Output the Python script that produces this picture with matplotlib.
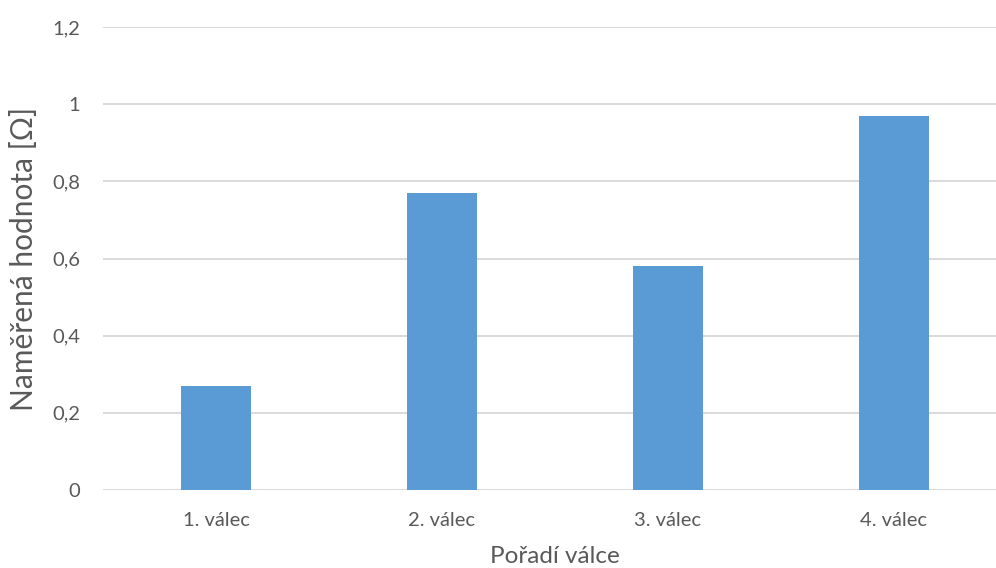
import matplotlib
matplotlib.use("Agg")
import matplotlib.pyplot as plt
from matplotlib.ticker import FuncFormatter

categories = ["1. válec", "2. válec", "3. válec", "4. válec"]
values = [0.27, 0.77, 0.58, 0.97]
yticks = [0, 0.2, 0.4, 0.6, 0.8, 1.0, 1.2]

plt.rcParams['font.family'] = ['Lato', 'DejaVu Sans']
text_color = "#595959"

W, H = 996, 568
fig = plt.figure(figsize=(W / 100, H / 100), dpi=100)
# plot area runs past the right edge of the canvas
left, right = 103, 1007
top, bottom = 27, 490
ax = fig.add_axes([left / W, 1 - bottom / H, (right - left) / W, (bottom - top) / H])

x = list(range(len(categories)))
ax.bar(x, values, width=0.31, color="#5B9BD5", zorder=3)

ax.set_xlim(-0.5, len(categories) - 0.5)
ax.set_ylim(0, 1.2)
ax.set_yticks(yticks)
ax.yaxis.set_major_formatter(FuncFormatter(lambda v, p: (f"{v:.1f}".rstrip("0").rstrip(".")).replace(".", ",")))
ax.set_xticks(x)
ax.set_xticklabels(categories)

ax.grid(axis="y", color="#d9d9d9", linewidth=1.4, zorder=0)
for s in ax.spines.values():
    s.set_visible(False)
ax.tick_params(axis="both", length=0, labelsize=14.5, colors=text_color)
ax.tick_params(axis="y", pad=16.5)
ax.tick_params(axis="x", pad=16)

ax.set_ylabel("Naměřená hodnota [Ω]", fontsize=21.5, color=text_color)
ax.yaxis.set_label_coords((38 - left) / (right - left), 0.5)
ax.set_xlabel("Pořadí válce", fontsize=17.5, color=text_color, labelpad=12)

fig.savefig("out.png", dpi=100)
